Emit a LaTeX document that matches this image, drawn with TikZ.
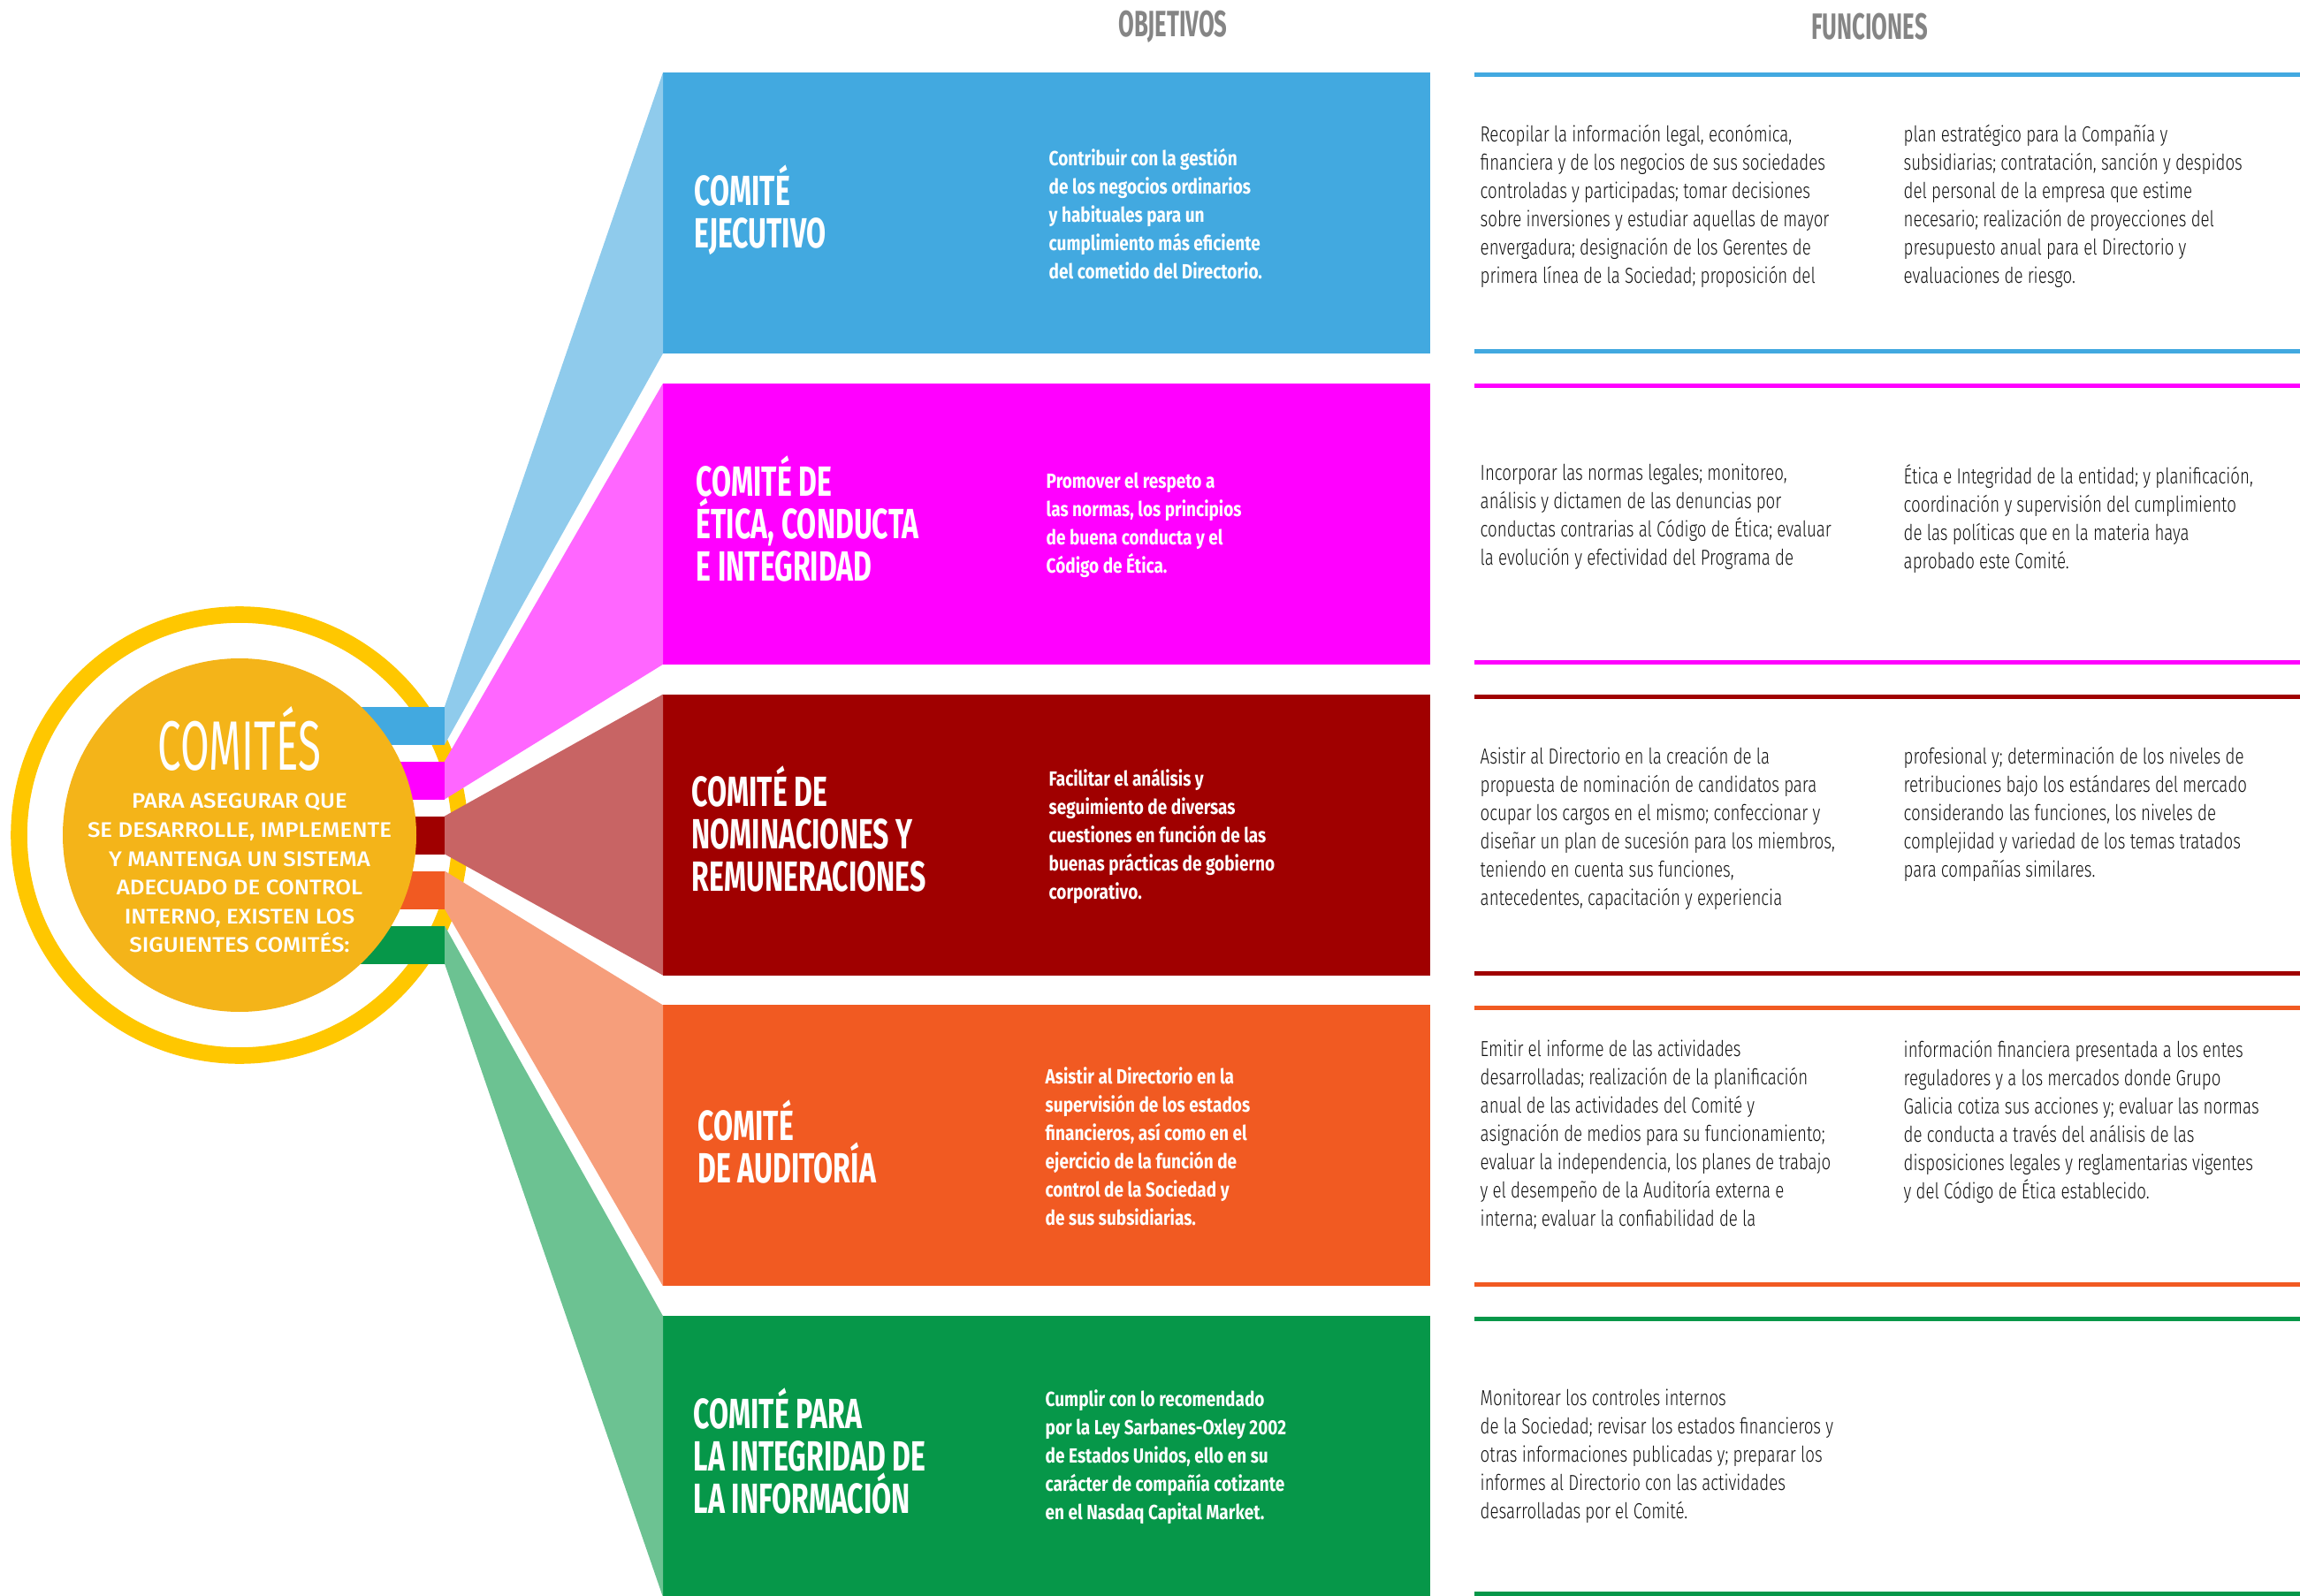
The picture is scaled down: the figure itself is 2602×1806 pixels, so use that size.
\documentclass[tikz,border=0pt]{standalone}
\usepackage{fontspec}
\setmainfont{Fira Sans}
\newfontfamily\headfont[FakeStretch=0.62]{Fira Sans}
\newfontfamily\titlefont[FakeStretch=0.67]{Fira Sans}
\newfontfamily\goalfont[FakeStretch=0.82]{Fira Sans}
\newfontfamily\taskfont[FakeStretch=0.76, UprightFont={* Light}]{Fira Sans}
\newfontfamily\circfont[FakeStretch=1.08, UprightFont={* Medium}]{Fira Sans}
\newfontfamily\bigfont[FakeStretch=0.6]{Fira Sans}

\definecolor{cblue}{HTML}{42A9E0}
\definecolor{lblue}{HTML}{8FCBEC}
\definecolor{cmag}{HTML}{FF00FF}
\definecolor{lmag}{HTML}{FF66FF}
\definecolor{cred}{HTML}{A00000}
\definecolor{lred}{HTML}{C86464}
\definecolor{corange}{HTML}{F15A22}
\definecolor{lorange}{HTML}{F69E7B}
\definecolor{cgreen}{HTML}{069749}
\definecolor{lgreen}{HTML}{6CC292}
\definecolor{cring}{HTML}{FFC700}
\definecolor{cgold}{HTML}{F4B419}
\definecolor{chead}{HTML}{858585}
\definecolor{ctext}{HTML}{111111}

\begin{document}
\begin{tikzpicture}[x=0.1mm, y=-0.1mm]
	\tikzstyle{box} = [rectangle, inner sep=0pt, outer sep=0pt, minimum width=86.8mm, minimum height=31.8mm]
	\tikzstyle{strip} = [rectangle, inner sep=0pt, outer sep=0pt, minimum width=10.3mm, minimum height=4.3mm]
	\tikzstyle{head} = [inner sep=0pt, text=chead, font=\headfont\bfseries\fontsize{11.8}{12}\selectfont]
	\tikzstyle{title} = [anchor=west, inner sep=0pt, align=left, text=white, font=\titlefont\bfseries\fontsize{13.6}{13.66}\selectfont]
	\tikzstyle{goal} = [anchor=west, inner sep=0pt, align=left, text=white, font=\goalfont\bfseries\fontsize{6.6}{9.1}\selectfont]
	\tikzstyle{task} = [inner sep=0pt, align=left, text=ctext, font=\taskfont\fontsize{7}{9.1}\selectfont]
	\useasboundingbox (0,0) rectangle (2602,1806);

	\node[head] (objetivos) at (1327,30) {OBJETIVOS};
	\node[head] (funciones) at (2115,30) {FUNCIONES};

	\node[circle, draw=cring, line width=1.86mm, minimum size=49.9mm] (ring) at (271,945) {};

	\node[strip, fill=cblue] (s1) at (451.5,821) {};
	\node[strip, fill=cmag] (s2) at (451.5,883) {};
	\node[strip, fill=cred] (s3) at (451.5,945) {};
	\node[strip, fill=corange] (s4) at (451.5,1007) {};
	\node[strip, fill=cgreen] (s5) at (451.5,1069) {};

	\node[box, fill=cblue] (b1) at (1184,241) {};
	\node[box, fill=cmag] (b2) at (1184,592.8) {};
	\node[box, fill=cred] (b3) at (1184,944.6) {};
	\node[box, fill=corange] (b4) at (1184,1296.4) {};
	\node[box, fill=cgreen] (b5) at (1184,1648.2) {};

	\fill[lblue] (s1.north east) -- (b1.north west) -- (b1.south west) -- (s1.south east) -- cycle;
	\fill[lmag] (s2.north east) -- (b2.north west) -- (b2.south west) -- (s2.south east) -- cycle;
	\fill[lred] (s3.north east) -- (b3.north west) -- (b3.south west) -- (s3.south east) -- cycle;
	\fill[lorange] (s4.north east) -- (b4.north west) -- (b4.south west) -- (s4.south east) -- cycle;
	\fill[lgreen] (s5.north east) -- (b5.north west) -- (b5.south west) -- (s5.south east) -- cycle;

	\node[circle, fill=cgold, inner sep=0pt, minimum size=40mm] (core) at (271,945) {};
	\node[inner sep=0pt, text=white, font=\bigfont\fontsize{22.5}{24}\selectfont] (comites) at (271,836) {COMITÉS};
	\node[inner sep=0pt, align=center, text=white, font=\circfont\fontsize{6.8}{9.25}\selectfont] (intro) at (271,988) {PARA ASEGURAR QUE\\SE DESARROLLE, IMPLEMENTE\\Y MANTENGA UN SISTEMA\\ADECUADO DE CONTROL\\INTERNO, EXISTEN LOS\\SIGUIENTES COMITÉS:};

	\node[title] (t1) at (785,238) {COMITÉ\\EJECUTIVO};
	\node[title] (t2) at (787,587) {COMITÉ DE\\ÉTICA, CONDUCTA\\E INTEGRIDAD};
	\node[title] (t3) at (782,938) {COMITÉ DE\\NOMINACIONES Y\\REMUNERACIONES};
	\node[title] (t4) at (789,1292) {COMITÉ\\DE AUDITORÍA};
	\node[title] (t5) at (784,1642) {COMITÉ PARA\\LA INTEGRIDAD DE\\LA INFORMACIÓN};

	\node[goal] (g1) at (1186,242) {Contribuir con la gestión\\de los negocios ordinarios\\y habituales para un\\cumplimiento más eficiente\\del cometido del Directorio.};
	\node[goal] (g2) at (1183,594) {Promover el respeto a\\las normas, los principios\\de buena conducta y el\\Código de Ética.};
	\node[goal] (g3) at (1186,946) {Facilitar el análisis y\\seguimiento de diversas\\cuestiones en función de las\\buenas prácticas de gobierno\\corporativo.};
	\node[goal] (g4) at (1182,1297) {Asistir al Directorio en la\\supervisión de los estados\\financieros, así como en el\\ejercicio de la función de\\control de la Sociedad y\\de sus subsidiarias.};
	\node[goal] (g5) at (1182,1649) {Cumplir con lo recomendado\\por la Ley Sarbanes-Oxley 2002\\de Estados Unidos, ello en su\\carácter de compañía cotizante\\en el Nasdaq Capital Market.};

	\draw[cblue, line width=0.5mm] (1668,84.5) -- (2602,84.5);
	\draw[cblue, line width=0.5mm] (1668,397.5) -- (2602,397.5);
	\draw[cmag, line width=0.5mm] (1668,436.5) -- (2602,436.5);
	\draw[cmag, line width=0.5mm] (1668,749.5) -- (2602,749.5);
	\draw[cred, line width=0.5mm] (1668,788) -- (2602,788);
	\draw[cred, line width=0.5mm] (1668,1101) -- (2602,1101);
	\draw[corange, line width=0.5mm] (1668,1140) -- (2602,1140);
	\draw[corange, line width=0.5mm] (1668,1453) -- (2602,1453);
	\draw[cgreen, line width=0.5mm] (1668,1492) -- (2602,1492);
	\draw[cgreen, line width=0.5mm] (1668,1803.5) -- (2602,1803.5);

	\node[task, anchor=west] (f1a) at (1674,233) {Recopilar la información legal, económica,\\financiera y de los negocios de sus sociedades\\controladas y participadas; tomar decisiones\\sobre inversiones y estudiar aquellas de mayor\\envergadura; designación de los Gerentes de\\primera línea de la Sociedad; proposición del};
	\node[task, anchor=north west] (f1b) at (2153,0 |- f1a.north) {plan estratégico para la Compañía y\\subsidiarias; contratación, sanción y despidos\\del personal de la empresa que estime\\necesario; realización de proyecciones del\\presupuesto anual para el Directorio y\\evaluaciones de riesgo.};
	\node[task, anchor=west] (f2a) at (1674,585) {Incorporar las normas legales; monitoreo,\\análisis y dictamen de las denuncias por\\conductas contrarias al Código de Ética; evaluar\\la evolución y efectividad del Programa de};
	\node[task, anchor=north west] (f2b) at (2153,0 |- f2a.north) {Ética e Integridad de la entidad; y planificación,\\coordinación y supervisión del cumplimiento\\de las políticas que en la materia haya\\aprobado este Comité.};
	\node[task, anchor=west] (f3a) at (1674,937) {Asistir al Directorio en la creación de la\\propuesta de nominación de candidatos para\\ocupar los cargos en el mismo; confeccionar y\\diseñar un plan de sucesión para los miembros,\\teniendo en cuenta sus funciones,\\antecedentes, capacitación y experiencia};
	\node[task, anchor=north west] (f3b) at (2153,0 |- f3a.north) {profesional y; determinación de los niveles de\\retribuciones bajo los estándares del mercado\\considerando las funciones, los niveles de\\complejidad y variedad de los temas tratados\\para compañías similares.};
	\node[task, anchor=west] (f4a) at (1674,1284) {Emitir el informe de las actividades\\desarrolladas; realización de la planificación\\anual de las actividades del Comité y\\asignación de medios para su funcionamiento;\\evaluar la independencia, los planes de trabajo\\y el desempeño de la Auditoría externa e\\interna; evaluar la confiabilidad de la};
	\node[task, anchor=north west] (f4b) at (2153,0 |- f4a.north) {información financiera presentada a los entes\\reguladores y a los mercados donde Grupo\\Galicia cotiza sus acciones y; evaluar las normas\\de conducta a través del análisis de las\\disposiciones legales y reglamentarias vigentes\\y del Código de Ética establecido.};
	\node[task, anchor=west] (f5a) at (1674,1648) {Monitorear los controles internos\\de la Sociedad; revisar los estados financieros y\\otras informaciones publicadas y; preparar los\\informes al Directorio con las actividades\\desarrolladas por el Comité.};
\end{tikzpicture}
\end{document}
